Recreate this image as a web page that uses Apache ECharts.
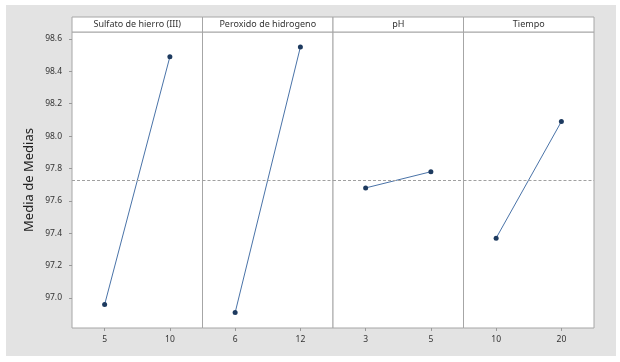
<!DOCTYPE html>
<html><head><meta charset="utf-8">
<script src="https://cdn.jsdelivr.net/npm/echarts@6/dist/echarts.min.js"></script>
<style>html,body{margin:0;padding:0;background:#fff}#c{width:620px;height:362px}</style>
</head><body><div id="c"></div>
<script>
const factors = ["Sulfato de hierro (III)", "Peroxido de hidrogeno", "pH", "Tiempo"];
const levels1 = ["5", "10"];
const levels2 = ["6", "12"];
const levels3 = ["3", "5"];
const levels4 = ["10", "20"];
const means1 = [96.96, 98.49];
const means2 = [96.91, 98.55];
const means3 = [97.68, 97.78];
const means4 = [97.37, 98.09];
const grandMean = 97.73;
const yTicks = [97.0, 97.2, 97.4, 97.6, 97.8, 98.0, 98.2, 98.4, 98.6];
const yTitle = "Media de Medias";

(function () {
const levels = [levels1, levels2, levels3, levels4];
const means = [means1, means2, means3, means4];
const font = "Noto Sans";
const left0 = 72, pw = 130.5, gTop = 32, ph = 296;
const grids = [], xAxes = [], yAxes = [], series = [], graphics = [];
graphics.push({type:'rect', shape:{x:6,y:5,width:610,height:351}, style:{fill:'#e3e3e3'}, z:-10});
for (let i = 0; i < 4; i++) {
  const L = left0 + i * pw;
  grids.push({left: L, top: gTop, width: pw, height: ph, show: true, backgroundColor: '#fff', borderColor: '#a6a6a6', borderWidth: 1});
  xAxes.push({type:'category', gridIndex:i, data: levels[i], boundaryGap:true,
    axisLine:{show:false}, axisTick:{show:true, alignWithLabel:true, length:3, lineStyle:{color:'#999'}},
    axisLabel:{color:'#333', fontSize:8.5, fontFamily:font, margin:7}, splitLine:{show:false}});
  yAxes.push({type:'value', gridIndex:i, min:96.815, max:98.643,
    axisLine:{show:false}, splitLine:{show:false},
    axisTick:{show:i===0, length:3, customValues: yTicks, lineStyle:{color:'#999'}},
    axisLabel:{show:i===0, customValues: yTicks, color:'#333', fontSize:8.5, fontFamily:font, margin:10,
      formatter: v => Number(v).toFixed(1)},
    name: i===0 ? yTitle : '', nameLocation:'middle', nameGap:36, nameRotate:90,
    nameTextStyle:{color:'#222', fontSize:13, fontFamily:font}});
  series.push({type:'line', xAxisIndex:i, yAxisIndex:i, data: means[i],
    symbol:'circle', symbolSize:5, itemStyle:{color:'#1d3a5f'},
    lineStyle:{color:'#4a73a8', width:1}, animation:false,
    markLine:{silent:true, symbol:'none', label:{show:false},
      lineStyle:{color:'#a0a0a0', type:[3,2], width:1}, data:[{yAxis: grandMean}]}});
  graphics.push({type:'rect', shape:{x:L, y:17, width:pw, height:15}, style:{fill:'#fff', stroke:'#a6a6a6', lineWidth:1}});
  graphics.push({type:'text', x:L + pw/2, y:24.5, style:{text:factors[i], fill:'#333', font:'9px "Noto Sans"', align:'center', verticalAlign:'middle'}});
}
const chart = echarts.init(document.getElementById('c'), null, {renderer:'canvas'});
chart.setOption({animation:false, backgroundColor:'#fff', grid:grids, xAxis:xAxes, yAxis:yAxes, series:series, graphic:graphics});
})();
</script></body></html>
